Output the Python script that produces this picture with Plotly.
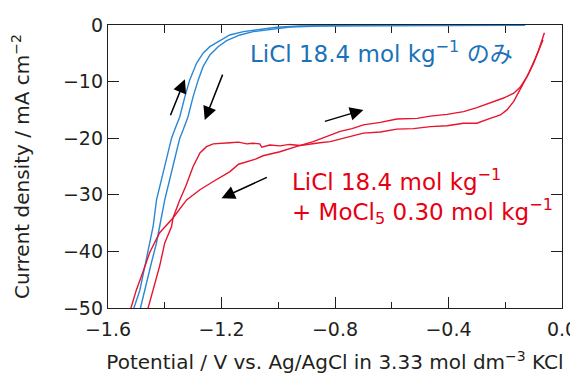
import plotly.graph_objects as go

# Blue: LiCl 18.4 mol/kg only (two sweeps)
blue_ret_v = [-1.512, -1.488, -1.470, -1.459, -1.441, -1.429, -1.417, -1.396, -1.376, -1.365, -1.347, -1.329,
              -1.312, -1.288, -1.265, -1.241, -1.206, -1.171, -1.123, -1.065, -1.006, -0.923, -0.747, -0.13]
blue_ret_i = [-50.5, -46.9, -42.6, -39.7, -35.6, -30.9, -28.5, -24.3, -20.0, -18.5, -16.2, -12.65,
              -9.7, -6.76, -4.99, -3.83, -2.77, -1.76, -1.18, -0.76, -0.41, -0.18, -0.06, -0.04]
blue_fwd_v = [-0.13, -0.641, -0.853, -0.959, -1.018, -1.088, -1.135, -1.182, -1.212, -1.241, -1.265, -1.282,
              -1.300, -1.318, -1.335, -1.347, -1.368, -1.389, -1.400, -1.418, -1.429, -1.447, -1.470, -1.488]
blue_fwd_i = [-0.04, -0.06, -0.18, -0.35, -0.71, -1.18, -1.76, -2.77, -3.83, -5.29, -7.36, -9.7,
              -12.65, -16.2, -18.5, -20.0, -24.3, -28.5, -30.9, -35.6, -38.5, -42.0, -46.8, -50.5]

# Red: LiCl 18.4 mol/kg + MoCl5 0.30 mol/kg (two sweeps)
red_a_v = [-0.067, -0.076, -0.094, -0.117, -0.146, -0.170, -0.194, -0.217, -0.253, -0.300, -0.347, -0.405,
           -0.464, -0.523, -0.582, -0.640, -0.700, -0.760, -0.817, -0.853, -0.890, -0.923, -0.960, -0.994,
           -1.030, -1.058, -1.065, -1.090, -1.111, -1.140, -1.170, -1.200, -1.229, -1.253, -1.276, -1.300,
           -1.326, -1.347, -1.371, -1.376, -1.400, -1.418, -1.441, -1.462]
red_a_i = [-2.65, -3.8, -5.9, -8.5, -11.2, -13.5, -15.0, -15.9, -16.5, -17.35, -17.35, -17.8,
           -17.95, -18.3, -18.4, -18.9, -19.1, -19.9, -20.6, -20.8, -21.0, -21.3, -21.1, -21.35,
           -21.2, -21.6, -21.0, -20.9, -21.0, -20.7, -20.8, -20.9, -21.0, -21.5, -22.6, -25.0,
           -28.5, -30.9, -34.1, -35.6, -38.5, -42.6, -46.8, -50.6]
red_b_v = [-1.521, -1.500, -1.476, -1.453, -1.418, -1.371, -1.323, -1.276, -1.229, -1.170, -1.140, -1.111,
           -1.080, -1.054, -0.994, -0.937, -0.877, -0.835, -0.782, -0.740, -0.700, -0.640, -0.582, -0.511,
           -0.464, -0.405, -0.347, -0.300, -0.253, -0.206, -0.170, -0.146, -0.123, -0.100, -0.082, -0.070, -0.062]
red_b_i = [-50.3, -46.8, -43.5, -40.2, -36.7, -34.1, -30.9, -29.1, -27.65, -25.9, -24.6, -24.1,
           -23.7, -23.1, -22.4, -21.5, -20.6, -19.8, -18.8, -18.3, -17.65, -17.2, -16.6, -16.5,
           -16.1, -15.8, -15.3, -14.6, -13.8, -12.9, -12.05, -10.9, -9.1, -6.76, -4.41, -2.35, -1.36]

# Arrows: (tail V, tail I, head V, head I)
arrows = [(-1.382, -16.2, -1.329, -9.6),
          (-1.194, -8.5, -1.259, -16.8),
          (-1.035, -26.8, -1.200, -30.6),
          (-0.841, -17.1, -0.700, -15.0)]

x_tickvals = [-1.6, -1.2, -0.8, -0.4, 0.0]
y_tickvals = [0, -10, -20, -30, -40, -50]

BLUE_LINE = "#2b87d3"
BLUE_TEXT = "#1a72b9"
RED_LINE = "#e8132e"
RED_TEXT = "#e60012"
AX = "#231f20"
FONT = "DejaVu Sans, Noto Sans CJK JP, sans-serif"

fig = go.Figure()
for v, i, c in [(blue_ret_v, blue_ret_i, BLUE_LINE), (blue_fwd_v, blue_fwd_i, BLUE_LINE),
                (red_a_v, red_a_i, RED_LINE), (red_b_v, red_b_i, RED_LINE)]:
    fig.add_trace(go.Scatter(x=v, y=i, mode="lines", line=dict(color=c, width=1.4),
                             showlegend=False, hoverinfo="skip"))
fig.add_trace(go.Scatter(x=[], y=[], xaxis="x2", showlegend=False))

for tv, ti, hv, hi in arrows:
    fig.add_annotation(x=hv, y=hi, ax=tv, ay=ti, xref="x", yref="y", axref="x", ayref="y",
                       text="", showarrow=True, arrowhead=2, arrowsize=1.8, arrowwidth=1.5,
                       arrowcolor="black")

fig.add_annotation(x=-1.107, y=-4.85, xref="x", yref="y", xanchor="left", yanchor="middle",
                   text="LiCl 18.4 mol kg<sup>−1</sup> のみ", showarrow=False,
                   font=dict(family=FONT, size=23, color=BLUE_TEXT))
fig.add_annotation(x=-0.959, y=-27.4, xref="x", yref="y", xanchor="left", yanchor="middle",
                   text="LiCl 18.4 mol kg<sup>−1</sup>", showarrow=False,
                   font=dict(family=FONT, size=23, color=RED_TEXT))
fig.add_annotation(x=-0.959, y=-33.0, xref="x", yref="y", xanchor="left", yanchor="middle",
                   text="+ MoCl<sub>5</sub> 0.30 mol kg<sup>−1</sup>", showarrow=False,
                   font=dict(family=FONT, size=23, color=RED_TEXT))

# the page body has an 8 px margin, so the figure is 8 px smaller and its margins shifted
fig.update_layout(
    width=570, height=366,
    margin=dict(l=100, r=16, t=17, b=66, autoexpand=False),
    paper_bgcolor="white", plot_bgcolor="white",
    font=dict(family=FONT, size=19, color=AX),
    xaxis=dict(range=[-1.6, 0.0], tickvals=x_tickvals, tickformat=".1f", automargin=False,
               ticks="inside", ticklen=11, tickwidth=1.3, tickcolor=AX, ticklabelstandoff=4,
               minor=dict(dtick=0.2, tick0=-1.6, ticks="inside", ticklen=6, tickwidth=1.3, tickcolor=AX),
               showline=True, linewidth=1.4, linecolor=AX, mirror=False, showgrid=False, zeroline=False,
               layer="below traces",
               title=dict(text="Potential / V vs. Ag/AgCl in 3.33 mol dm<sup>−3</sup> KCl",
                          font=dict(size=20), standoff=22)),
    xaxis2=dict(range=[-1.6, 0.0], overlaying="x", side="top", dtick=0.2, tick0=-1.6, automargin=False,
                ticks="inside", ticklen=8, tickwidth=1.3, tickcolor=AX, showticklabels=False,
                showline=True, linewidth=1.4, linecolor=AX, showgrid=False, zeroline=False,
                layer="below traces"),
    yaxis=dict(range=[-50, 0], tickvals=y_tickvals, ticks="inside", ticklen=11, tickwidth=1.3,
               tickcolor=AX, showline=True, linewidth=1.4, linecolor=AX, mirror="ticks", automargin=False,
               showgrid=False, zeroline=False, layer="below traces",
               title=dict(text="Current density / mA cm<sup>−2</sup>", font=dict(size=20), standoff=32)),
)

fig.write_html("out.html")
